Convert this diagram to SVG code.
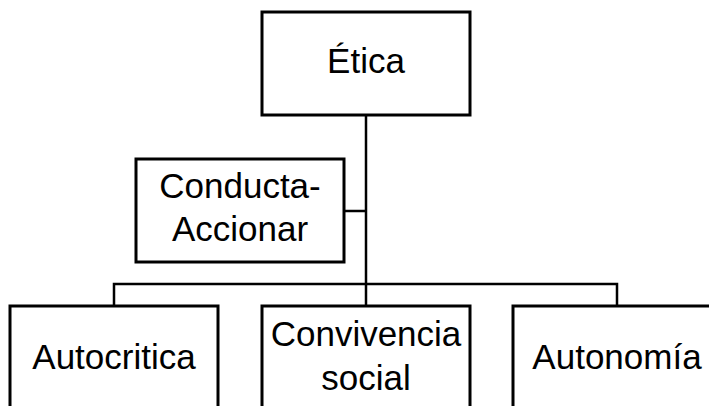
<svg xmlns="http://www.w3.org/2000/svg" width="709" height="406" viewBox="0 0 709 406">
<style>
.box{fill:#fff;stroke:#000;stroke-width:3}
.lbl{font-family:"Liberation Sans",Arial,sans-serif;font-size:35px;fill:#000;text-anchor:middle}
.con{fill:none;stroke:#000;stroke-width:2.5}
</style>
<rect width="709" height="406" fill="#fff"/>
<g id="connectors">
<line class="con" x1="366" y1="115" x2="366" y2="306"/>
<line class="con" x1="344" y1="211" x2="366" y2="211"/>
<polyline class="con" points="114,306 114,284 617,284 617,306"/>
</g>
<g id="etica">
<rect class="box" x="262" y="12" width="208" height="103"/>
<text class="lbl" x="366" y="73">Ética</text>
</g>
<g id="conducta">
<rect class="box" x="136" y="159" width="208" height="103"/>
<text class="lbl" x="240" y="198">Conducta-</text>
<text class="lbl" x="240" y="241">Accionar</text>
</g>
<g id="autocritica">
<rect class="box" x="10" y="306" width="208" height="110"/>
<text class="lbl" x="114" y="369">Autocritica</text>
</g>
<g id="convivencia">
<rect class="box" x="262" y="306" width="208" height="110"/>
<text class="lbl" x="366" y="346">Convivencia</text>
<text class="lbl" x="366" y="390">social</text>
</g>
<g id="autonomia">
<rect class="box" x="513" y="306" width="208" height="110"/>
<text class="lbl" x="617" y="369">Autonomía</text>
</g>
</svg>
